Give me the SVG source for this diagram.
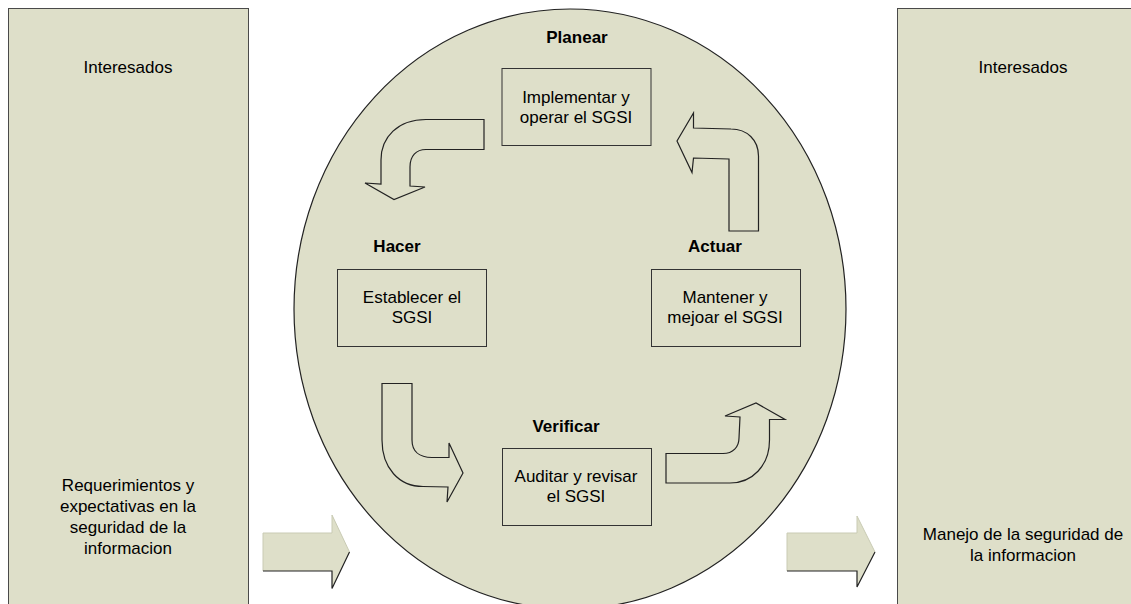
<svg xmlns="http://www.w3.org/2000/svg" width="1131" height="604" viewBox="0 0 1131 604">
  <style>
    .panel { fill: #dedfc9; stroke: #4a4a4a; stroke-width: 1; }
    .cycle { fill: #dedfc9; stroke: #222; stroke-width: 1.2; }
    .box { fill: #dedfc9; stroke: #333; stroke-width: 1; }
    .bend { fill: #dedfc9; stroke: #222; stroke-width: 1.2; stroke-linejoin: miter; }
    .flow { fill: #dedfc9; stroke: none; }
    .flow-edge { fill: none; stroke: #222; stroke-width: 1.2; }
    .flow-lite { fill: none; stroke: #c9cbb4; stroke-width: 1; }
    text { font-family: "Liberation Sans", Arial, sans-serif; font-size: 17px; fill: #000; text-anchor: middle; }
    .phase { font-weight: bold; }
  </style>
  <rect width="1131" height="604" fill="#ffffff"/>

  <!-- stakeholder panels -->
  <g id="interesados-entrada">
    <rect class="panel" x="8.5" y="8.5" width="240" height="610"/>
    <text x="128" y="73">Interesados</text>
    <text x="128" y="491">Requerimientos y</text>
    <text x="128" y="512">expectativas en la</text>
    <text x="128" y="533">seguridad de la</text>
    <text x="128" y="554">informacion</text>
  </g>
  <g id="interesados-salida">
    <rect class="panel" x="897.5" y="8.5" width="252" height="610"/>
    <text x="1023" y="73">Interesados</text>
    <text x="1023" y="540">Manejo de la seguridad de</text>
    <text x="1023" y="561">la informacion</text>
  </g>

  <!-- PDCA cycle -->
  <g id="ciclo">
    <ellipse class="cycle" cx="570" cy="309" rx="276" ry="300"/>
  </g>

  <g id="planear">
    <text class="phase" x="577" y="43">Planear</text>
    <rect class="box" x="502" y="68.5" width="149" height="77"/>
    <text x="576" y="103">Implementar y</text>
    <text x="576" y="123">operar el SGSI</text>
  </g>
  <g id="hacer">
    <text class="phase" x="397" y="252">Hacer</text>
    <rect class="box" x="337.5" y="269.5" width="149" height="77"/>
    <text x="412" y="303">Establecer el</text>
    <text x="412" y="323">SGSI</text>
  </g>
  <g id="actuar">
    <text class="phase" x="715" y="252">Actuar</text>
    <rect class="box" x="651.5" y="269.5" width="149" height="77"/>
    <text x="725" y="303">Mantener y</text>
    <text x="725" y="323">mejoar el SGSI</text>
  </g>
  <g id="verificar">
    <text class="phase" x="566" y="432">Verificar</text>
    <rect class="box" x="502.5" y="448.5" width="149" height="77"/>
    <text x="576" y="482">Auditar y revisar</text>
    <text x="576" y="502">el SGSI</text>
  </g>

  <!-- connectors: bent block arrows around the cycle and input/output arrows -->
  <g id="conectores">
    <!-- Planear to Hacer -->
    <path class="bend" d="M484,119.5 L426,119.5 C398,119.5 381,137 381,160 L381,184 L365,183 L394,199.5 L425,187 L410,186 L410,167 C410,156 416,149.5 426,149.5 L484,149.5 Z"/>
    <!-- Actuar to Planear -->
    <path class="bend" d="M758.5,231 L729,231 L729,159 L693.5,158 L692,172.5 L677,141 L693.5,113 L693.5,128 L731,129 C747,129 758.5,140 758.5,156 Z"/>
    <!-- Hacer to Verificar -->
    <path class="bend" d="M382,383.5 L412,383.5 L412,440 C412,451 419,457.5 432,457.5 L449,457.5 L449,443 L463,473 L447,502 L448,487 L423,486.5 C399,486.5 382,468 382,440 Z"/>
    <!-- Verificar to Actuar -->
    <path class="bend" d="M666,453.5 L723,453.5 C733,453.5 739,447 739,438 L740,417 L725,416 L756,403 L785,419.5 L769.5,419.5 L769.5,440 C769.5,466 752,483 730,483 L666,483 Z"/>

    <!-- input arrow -->
    <polygon class="flow" points="263,533 332,533 332,515 349.5,552 332,588.5 332,571 263,571"/>
    <polyline class="flow-lite" points="263,571 263,533 332,533 332,515 349.5,552"/>
    <polyline class="flow-edge" points="263,571 332,571 332,588.5 349.5,552"/>
    <!-- output arrow -->
    <polygon class="flow" points="787,533 857,533 857,516 875,552 857,587 857,571 787,571"/>
    <polyline class="flow-lite" points="787,571 787,533 857,533 857,516 875,552"/>
    <polyline class="flow-edge" points="787,571 857,571 857,587 875,552"/>
  </g>
</svg>
